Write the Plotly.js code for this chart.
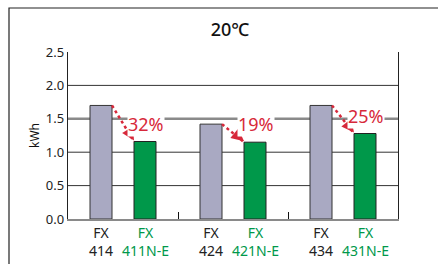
<!DOCTYPE html>
<html>
<head>
<meta charset="utf-8">
<script src="https://cdn.plot.ly/plotly-3.0.1.min.js"></script>
<style>html,body{margin:0;padding:0;background:#fff;}#chart{width:438px;height:264px;}</style>
</head>
<body>
<div id="chart"></div>
<script>
// ---- data ----
const groups = ['FX414 / FX411N-E', 'FX424 / FX421N-E', 'FX434 / FX431N-E'];
const baseModels = ['FX<br>414', 'FX<br>424', 'FX<br>434'];
const newModels = ['FX<br>411N-E', 'FX<br>421N-E', 'FX<br>431N-E'];
const baseValues = [1.70, 1.42, 1.70];
const newValues = [1.16, 1.15, 1.28];
const savings = ['32%', '19%', '25%'];
const yTicks = [0, 0.5, 1.0, 1.5, 2.0, 2.5];

// ---- layout geometry ----
const W = 438, H = 264;
const M = {l: 68, r: 40, t: 52, b: 45};
const plotW = W - M.l - M.r, plotH = H - M.t - M.b;
const yMax = 2.5;
const pxPerUnit = plotH / yMax;
const catW = plotW / groups.length;
const barOff = 0.2 * catW;   // bar centre offset from group centre
const halfBar = 0.1 * catW;  // half bar width

const GRAY = '#a9a9c2', GREEN = '#00984a', RED = '#d7283a';
const FONT = 'Noto Sans, Open Sans, sans-serif';

const traces = [
  {type: 'bar', x: groups, y: baseValues, marker: {color: GRAY, line: {color: '#333', width: 1}}, hoverinfo: 'y'},
  {type: 'bar', x: groups, y: newValues, marker: {color: GREEN, line: {color: '#222', width: 1}}, hoverinfo: 'y'}
];

const shapes = [
  // outer frame
  {type: 'rect', xref: 'paper', yref: 'paper',
   x0: (9 - M.l) / plotW, x1: 2, y0: -1, y1: 1 + (M.t - 8) / plotH,
   line: {color: '#222', width: 1.2}, layer: 'below'}
];
// grid lines (1.5 highlighted in gray)
yTicks.filter(v => v > 0 && v < yMax).forEach(v => {
  shapes.push({type: 'line', xref: 'paper', yref: 'y', x0: 0, x1: 1, y0: v, y1: v,
    line: v === 1.5 ? {color: '#8a8a8a', width: 2.5} : {color: '#333', width: 1}, layer: 'below'});
});
const annotations = [];

groups.forEach((g, i) => {
  // x labels
  annotations.push({x: i, y: 0, xref: 'x', yref: 'y', xshift: -barOff, yshift: -2, yanchor: 'top',
    text: baseModels[i], showarrow: false, font: {family: FONT, size: 14, color: '#222'}});
  annotations.push({x: i, y: 0, xref: 'x', yref: 'y', xshift: barOff, yshift: -2, yanchor: 'top',
    text: newModels[i], showarrow: false, font: {family: FONT, size: 14, color: GREEN}});
  // dotted arrow body
  shapes.push({type: 'line', xref: 'x', yref: 'y', x0: i - 0.1, x1: i + 0.1,
    y0: baseValues[i], y1: newValues[i], line: {color: RED, width: 2.5, dash: 'dot'}});
  // arrow head
  const dx = -(2 * barOff - 2 * halfBar);
  const dy = -(baseValues[i] - newValues[i]) * pxPerUnit;
  const len = Math.sqrt(dx * dx + dy * dy);
  annotations.push({x: i, y: newValues[i], xref: 'x', yref: 'y', xshift: barOff - halfBar, yshift: 1,
    text: '', showarrow: true, arrowhead: 2, arrowsize: 1, arrowwidth: 2.5, arrowcolor: RED,
    ax: dx / len * 7, ay: dy / len * 7, standoff: 0});
  // savings label
  annotations.push({x: i, y: newValues[i], xref: 'x', yref: 'y', xshift: barOff + 1, yshift: 5,
    yanchor: 'bottom', text: savings[i], showarrow: false, bgcolor: '#fff', borderpad: 0,
    font: {family: FONT, size: 18, color: RED}});
});

const layout = {
  width: W, height: H,
  margin: M,
  paper_bgcolor: '#fff', plot_bgcolor: '#fff',
  showlegend: false,
  font: {family: FONT, color: '#222'},
  title: {text: '20℃', x: 230 / W, xanchor: 'center', y: 1 - 30 / H, yanchor: 'middle',
          font: {family: FONT, size: 18, color: '#111', weight: 500}},
  barmode: 'group', bargap: 0.2, bargroupgap: 0.5,
  xaxis: {type: 'category', range: [-0.5, groups.length - 0.5], showticklabels: false,
          ticks: 'inside', tickson: 'boundaries',
          ticklen: 7, tickcolor: '#111', tickwidth: 1,
          showline: true, linecolor: '#8a8a8a', linewidth: 2, showgrid: false, zeroline: false},
  yaxis: {range: [0, yMax], tickvals: yTicks, tickformat: '.1f', ticks: '',
          tickfont: {family: FONT, size: 13, color: '#222'},
          showline: true, mirror: true, linecolor: '#222', linewidth: 1.2,
          showgrid: false, zeroline: false,
          title: {text: 'kWh', standoff: 3, font: {family: FONT, size: 12, color: '#111'}}},
  shapes: shapes,
  annotations: annotations
};

Plotly.newPlot('chart', traces, layout, {staticPlot: true, displayModeBar: false});
</script>
</body>
</html>
